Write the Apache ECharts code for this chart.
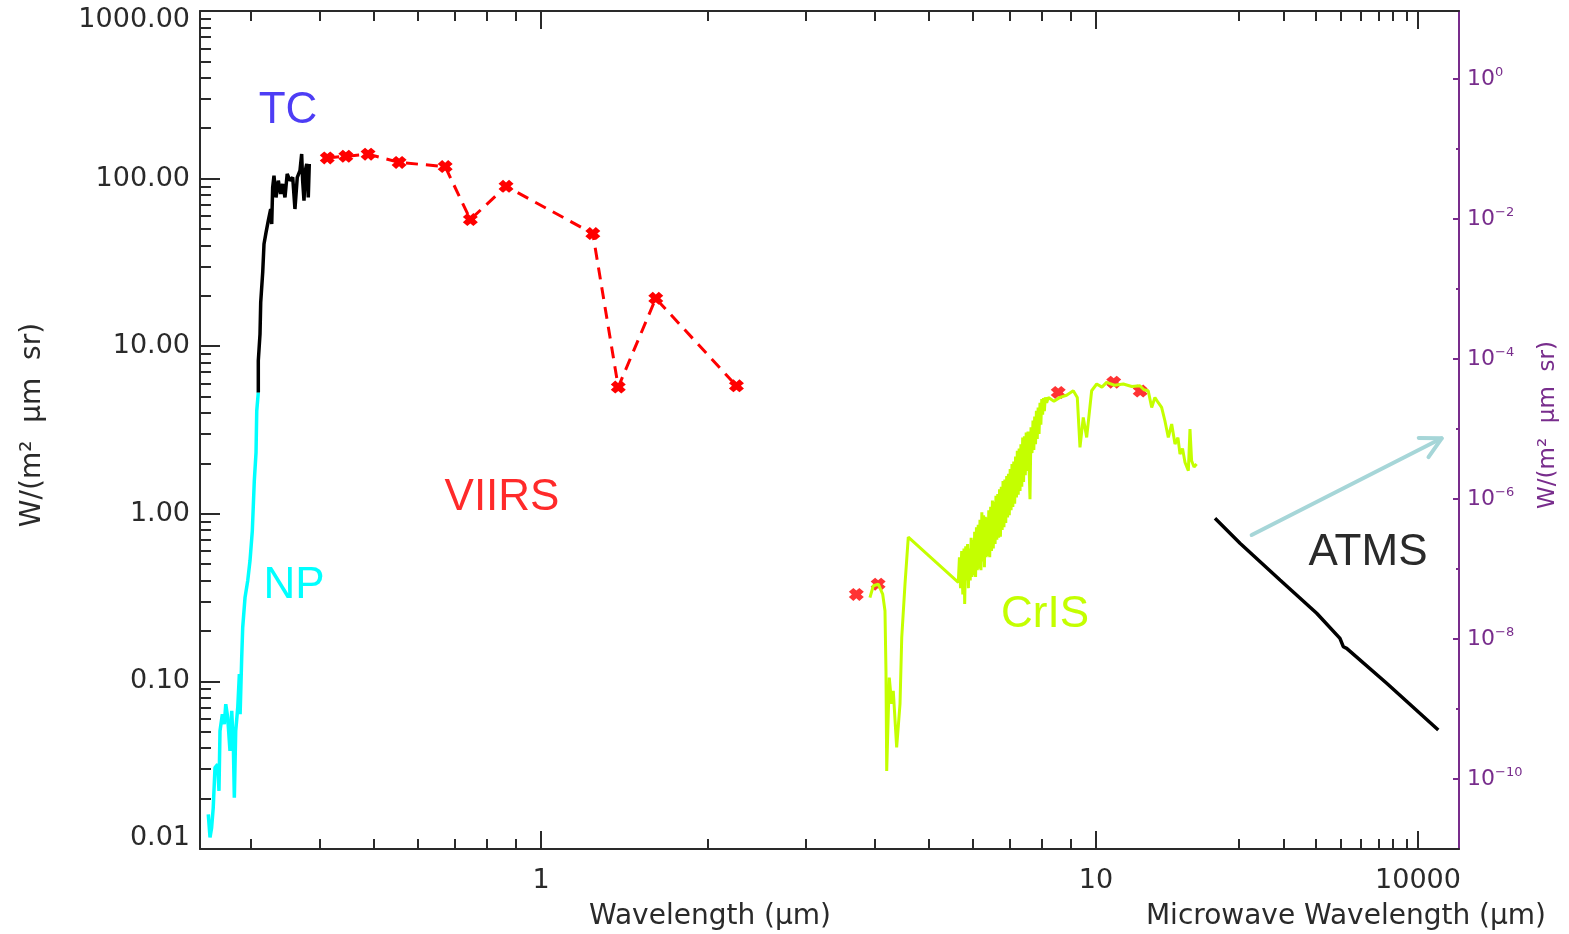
<!DOCTYPE html>
<html><head><meta charset="utf-8">
<script src="https://cdn.jsdelivr.net/npm/echarts@6/dist/echarts.min.js"></script>
<style>html,body{margin:0;padding:0;background:#fff}#c{width:1569px;height:934px}</style>
</head><body><div id="c"></div>
<script>
// ---------------- data (wavelength in µm, radiance in W/(m² µm sr)) ----------------
const NP_WL  = [0.2515,0.2533,0.2550,0.2567,0.2586,0.2615,0.2629,0.2640,0.2666,0.2688,0.2704,0.2726,0.2752,0.2772,0.2791,0.2802,0.2818,0.2842,0.2861,0.2870,0.2889,0.2901,0.2929,0.2962,0.2990,0.3019,0.3044,0.3066,0.3075,0.3095];
const NP_RAD = [0.0161,0.0117,0.0134,0.0176,0.0306,0.0320,0.0222,0.0506,0.0637,0.0555,0.0731,0.0608,0.0385,0.0667,0.0403,0.0202,0.0506,0.0698,0.1104,0.0637,0.1387,0.2096,0.3164,0.3981,0.5240,0.7916,1.574,2.323,4.120,5.298];

const TC_WL  = [0.3095,0.3095,0.3117,0.3126,0.3152,0.3169,0.3196,0.3226,0.3258,0.3272,0.3285,0.3303,0.3331,0.3363,0.3396,0.3424,0.3457,0.3489,0.3530,0.3570,0.3603,0.3638,0.3679,0.3705,0.3720,0.3741,0.3761,0.3784,0.3808,0.3824];
const TC_RAD = [5.298,8.19,11.83,18.26,27.58,40.74,47.8,56.2,65.9,53.6,88.7,104.2,77.3,97.3,81.0,93.0,77.3,106.7,97.3,101.8,65.9,101.8,111.6,140.4,97.3,73.9,111.6,122.4,77.3,122.4];

const VIIRS_WL  = [0.412,0.445,0.488,0.555,0.672,0.746,0.865,1.24,1.378,1.61,2.25];
const VIIRS_RAD = [133,136,140,125,118,57,90,47,5.7,19.3,5.8];
const VIIRS_IR_WL  = [3.7,4.05,8.55,10.763,12.013];
const VIIRS_IR_RAD = [0.33,0.38,5.3,6.1,5.4];

const CRIS_WL  = [3.915,3.97,4.053,4.127,4.167,4.184,4.197,4.242,4.284,4.313,4.374,4.435,4.467,4.528,4.590,
  5.648,5.675,5.70,5.728,5.755,5.783,5.800,5.825,5.848,5.870,5.890,5.912,5.935,5.958,5.978,6.000,6.022,6.045,6.068,6.090,
  6.111,6.135,6.158,6.180,6.205,6.228,6.249,6.272,6.295,6.316,6.340,6.365,6.387,6.410,6.435,6.460,6.483,6.507,6.531,6.555,
  6.580,6.603,6.628,6.653,6.678,6.703,6.727,6.751,6.776,6.800,6.826,6.852,6.878,6.904,6.930,6.955,6.979,7.005,7.031,7.057,
  7.083,7.110,7.137,7.163,7.190,7.215,7.243,7.270,7.297,7.324,7.351,7.378,7.405,7.431,7.458,7.486,7.514,7.543,7.575,7.605,
  7.637,7.669,7.700,7.727,7.754,7.782,7.810,7.838,7.866,7.897,7.927,7.956,7.985,8.015,8.045,8.073,8.103,8.150,8.206,
  8.40,8.613,8.85,9.101,9.254,9.358,9.486,9.621,9.822,10.03,10.25,10.45,10.80,11.20,11.60,12.00,12.20,12.42,12.60,12.77,
  12.95,13.13,13.31,13.50,13.69,13.88,14.05,14.17,14.32,14.47,14.67,14.77,14.87,15.02,15.18];
const CRIS_RAD = [0.316,0.372,0.380,0.332,0.264,0.1155,0.0292,0.1054,0.0734,0.0878,0.0403,0.0734,0.1826,0.382,0.725,
  0.39,0.55,0.36,0.60,0.33,0.62,0.29,0.64,0.40,0.66,0.36,0.62,0.40,0.72,0.42,0.70,0.43,0.78,0.42,0.83,
  0.46,0.86,0.47,0.92,0.46,1.02,0.52,0.98,0.48,0.96,0.55,0.95,0.56,1.05,0.55,1.10,0.60,1.20,0.62,1.18,
  0.66,1.28,0.70,1.31,0.72,1.40,0.73,1.45,0.80,1.57,0.83,1.60,0.88,1.68,0.95,1.73,0.98,1.85,1.05,1.98,
  1.10,2.05,1.15,2.20,1.25,2.38,1.30,2.45,1.37,2.60,1.45,2.85,1.55,2.90,1.70,3.05,1.80,3.10,1.95,1.22,
  3.28,2.30,3.60,2.40,3.80,2.60,4.12,2.80,4.30,3.00,4.60,3.40,4.84,3.90,4.90,4.10,4.95,4.60,4.95,
  4.70,4.95,5.10,5.424,4.947,2.488,3.757,2.855,5.424,5.948,5.70,6.080,5.85,5.948,5.75,5.810,5.50,5.424,4.311,4.947,
  4.60,4.311,3.591,2.855,3.432,2.607,2.85,2.272,2.45,2.024,1.806,3.204,2.072,1.90,1.981];

// ATMS: microwave wavelength (µm) vs right-axis radiance
const ATMS_WL  = [1611,2017,2891,4021,4957,5108,5265,7546,12003];
const ATMS_RAD = [5.30e-7,2.33e-7,6.97e-8,2.33e-8,1.02e-8,7.76e-9,7.36e-9,2.33e-9,5.0e-10];
const ARROW_WL  = [2240,12377];
const ARROW_RAD = [3.06e-7,7.36e-6];

// ---------------- ticks ----------------
const X_MAJOR = [1,10];
const X_MINOR = [0.3,0.4,0.5,0.6,0.7,0.8,0.9,2,3,4,5,6,7,8,9];
const MW_MAJOR = [10000];
const MW_MINOR = [2000,3000,4000,5000,6000,7000,8000,9000];
const YL_MAJOR = [0.01,0.1,1,10,100,1000];
const YL_MINOR = [];
[0.01,0.1,1,10,100].forEach(d => { for (let k = 2; k <= 9; k++) YL_MINOR.push(k*d); });
const YR_MAJOR = [1,1e-2,1e-4,1e-6,1e-8,1e-10];
const YR_MINOR = [1e-1,1e-3,1e-5,1e-7,1e-9];

// ---------------- chart ----------------
const L = Math.log10;
const pairs = (xs, ys) => xs.map((x, i) => [L(x), L(ys[i])]);
const FONT = 'DejaVu Sans';
const AX = '#2a2a2a';
const PURPLE = '#782d8c';
const XMAIN = [-0.6144, 1.6541];
const XMW = [-0.7578, 4.1602];
const YL = [-2.0005, 3.0005];
const YR = [-11, 0.9714];

function axis(o) {
  const col = o.color || AX;
  return {
    type: 'value', min: o.ext[0], max: o.ext[1], position: o.position,
    axisLine: {show: !!o.line, onZero: false, lineStyle: {color: col, width: 2}},
    axisTick: {show: true, inside: true, length: o.len, customValues: o.ticks.map(L), lineStyle: {color: col, width: 2}},
    axisLabel: o.labels ? Object.assign({show: true, customValues: o.ticks.map(L), hideOverlap: false}, o.labels) : {show: false},
    splitLine: {show: false}, minorTick: {show: false}, minorSplitLine: {show: false}, splitArea: {show: false},
    axisPointer: {show: false}, silent: true, z: 5
  };
}

const xLabel = {
  margin: 18, fontSize: 27, fontFamily: FONT, color: AX,
  formatter: v => String(Math.round(Math.pow(10, v)))
};
const lab = (extra) => Object.assign({fontSize: 27, fontFamily: FONT, color: AX}, extra || {});

const xAxes = [
  axis({ext: XMAIN, position: 'bottom', line: true, ticks: X_MAJOR, len: 18, labels: xLabel}),
  axis({ext: XMAIN, position: 'bottom', ticks: X_MINOR, len: 10}),
  axis({ext: XMW, position: 'bottom', ticks: MW_MAJOR, len: 18, labels: xLabel}),
  axis({ext: XMW, position: 'bottom', ticks: MW_MINOR, len: 10}),
  axis({ext: XMAIN, position: 'top', line: true, ticks: X_MAJOR, len: 18}),
  axis({ext: XMAIN, position: 'top', ticks: X_MINOR, len: 10}),
  axis({ext: XMW, position: 'top', ticks: MW_MAJOR, len: 18}),
  axis({ext: XMW, position: 'top', ticks: MW_MINOR, len: 10})
];

const yAxes = [
  axis({ext: YL, position: 'left', line: true, ticks: YL_MAJOR, len: 20, labels: {
    margin: 10,
    formatter: v => {
      const s = Math.pow(10, v).toFixed(2);
      if (v > 2.9) return '{t|' + s + '}';
      if (v < -1.9) return '{b|' + s + '}';
      return '{n|' + s + '}';
    },
    rich: {n: lab(), t: lab({padding: [18, 0, 0, 0]}), b: lab({padding: [0, 0, 22, 0]})}
  }}),
  axis({ext: YL, position: 'left', ticks: YL_MINOR, len: 11}),
  axis({ext: YR, position: 'right', line: true, color: PURPLE, ticks: YR_MAJOR, len: 6, labels: {
    margin: 8,
    formatter: v => {
      const r = Math.round(v);
      return '{m|10}{e|' + (r === 0 ? '0' : '\u2212' + (-r)) + '}';
    },
    rich: {
      m: {fontSize: 22, fontFamily: FONT, color: PURPLE, lineHeight: 26},
      e: {fontSize: 13, fontFamily: FONT, color: PURPLE, verticalAlign: 'top', lineHeight: 13}
    }
  }}),
  axis({ext: YR, position: 'right', color: PURPLE, ticks: YR_MINOR, len: 3})
];

const cross = 'path://M0,3 L3,0 L5,2 L7,0 L10,3 L8,5 L10,7 L7,10 L5,8 L3,10 L0,7 L2,5 Z';

const option = {
  animation: false,
  backgroundColor: '#ffffff',
  grid: {left: 200, right: 110, top: 11, bottom: 85, containLabel: false, outerBoundsMode: 'none'},
  xAxis: xAxes,
  yAxis: yAxes,
  series: [
    {type: 'line', name: 'NP', xAxisIndex: 0, yAxisIndex: 0, data: pairs(NP_WL, NP_RAD), symbol: 'none',
     lineStyle: {color: '#00ffff', width: 3.5}, z: 3},
    {type: 'line', name: 'TC', xAxisIndex: 0, yAxisIndex: 0, data: pairs(TC_WL, TC_RAD), symbol: 'none',
     lineStyle: {color: '#000000', width: 3.5}, z: 3},
    {type: 'line', name: 'VIIRS', xAxisIndex: 0, yAxisIndex: 0, data: pairs(VIIRS_WL, VIIRS_RAD),
     symbol: cross, symbolSize: [15, 13], showSymbol: true, itemStyle: {color: '#ff0000'},
     lineStyle: {color: '#ff0000', width: 3, type: [12, 8]}, z: 3},
    {type: 'scatter', name: 'VIIRS IR', xAxisIndex: 0, yAxisIndex: 0, data: pairs(VIIRS_IR_WL, VIIRS_IR_RAD),
     symbol: cross, symbolSize: [15, 13], itemStyle: {color: '#ff0000'}, z: 2},
    {type: 'line', name: 'CrIS', xAxisIndex: 0, yAxisIndex: 0, data: pairs(CRIS_WL, CRIS_RAD), symbol: 'none',
     lineStyle: {color: '#c4ff00', width: 3}, z: 4},
    {type: 'line', name: 'ATMS', xAxisIndex: 2, yAxisIndex: 2, data: pairs(ATMS_WL, ATMS_RAD), symbol: 'none',
     lineStyle: {color: '#000000', width: 3.5}, z: 3},
    {type: 'custom', name: 'arrow', xAxisIndex: 2, yAxisIndex: 2, clip: false, silent: true,
     data: [[L(ARROW_WL[0]), L(ARROW_RAD[0]), L(ARROW_WL[1]), L(ARROW_RAD[1])]],
     encode: {x: [0, 2], y: [1, 3]},
     renderItem: (params, api) => {
       const p0 = api.coord([api.value(0), api.value(1)]);
       const p1 = api.coord([api.value(2), api.value(3)]);
       const ang = Math.atan2(p1[1] - p0[1], p1[0] - p0[0]);
       const hl = 23, ha = 28 * Math.PI / 180;
       const w1 = [p1[0] - hl * Math.cos(ang - ha), p1[1] - hl * Math.sin(ang - ha)];
       const w2 = [p1[0] - hl * Math.cos(ang + ha), p1[1] - hl * Math.sin(ang + ha)];
       const st = {stroke: '#a6d6d8', lineWidth: 4, fill: null, lineCap: 'round', lineJoin: 'round'};
       return {type: 'group', children: [
         {type: 'line', shape: {x1: p0[0], y1: p0[1], x2: p1[0], y2: p1[1]}, style: st},
         {type: 'polyline', shape: {points: [w1, p1, w2]}, style: st}
       ]};
     }}
  ],
  graphic: [
    {type: 'text', x: 288, y: 111, style: {text: 'TC', fontSize: 44, fontFamily: 'Liberation Sans', fill: '#4d3df5', align: 'center', verticalAlign: 'middle'}},
    {type: 'text', x: 294, y: 586, style: {text: 'NP', fontSize: 44, fontFamily: 'Liberation Sans', fill: '#00ffff', align: 'center', verticalAlign: 'middle'}},
    {type: 'text', x: 502, y: 498, style: {text: 'VIIRS', fontSize: 44, fontFamily: 'Liberation Sans', fill: '#ff2a2a', align: 'center', verticalAlign: 'middle'}},
    {type: 'text', x: 1045, y: 615, style: {text: 'CrIS', fontSize: 44, fontFamily: 'Liberation Sans', fill: '#c4ff00', align: 'center', verticalAlign: 'middle'}},
    {type: 'text', x: 1368, y: 553, style: {text: 'ATMS', fontSize: 44, fontFamily: 'Liberation Sans', fill: '#2a2a2a', align: 'center', verticalAlign: 'middle'}},
    {type: 'text', x: 710, y: 917, style: {text: 'Wavelength (\u03bcm)', fontSize: 28, fontFamily: FONT, fill: AX, align: 'center', verticalAlign: 'middle'}},
    {type: 'text', x: 1546, y: 917, style: {text: 'Microwave Wavelength (\u03bcm)', fontSize: 28, fontFamily: FONT, fill: AX, align: 'right', verticalAlign: 'middle'}},
    {type: 'text', x: 33, y: 425, rotation: Math.PI / 2, style: {text: 'W/(m\u00b2  \u03bcm  sr)', fontSize: 28, fontFamily: FONT, fill: AX, align: 'center', verticalAlign: 'middle'}},
    {type: 'text', x: 1548, y: 425, rotation: Math.PI / 2, style: {text: 'W/(m\u00b2  \u03bcm  sr)', fontSize: 23, fontFamily: FONT, fill: PURPLE, align: 'center', verticalAlign: 'middle'}}
  ]
};

const chart = echarts.init(document.getElementById('c'), null, {renderer: 'canvas'});
chart.setOption(option);
</script>
</body></html>
